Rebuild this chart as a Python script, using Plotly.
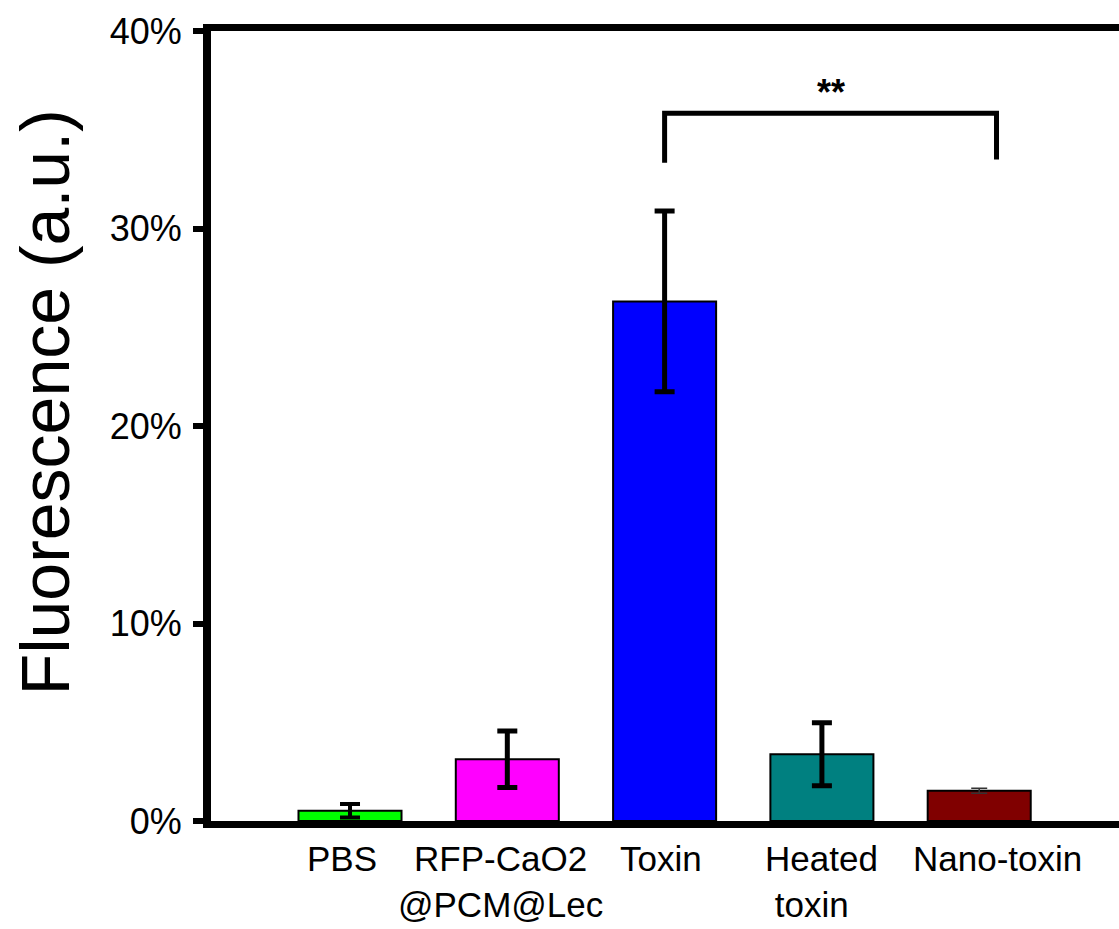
import plotly.graph_objects as go

# ---- data ----
categories = ["PBS", "RFP-CaO2<br>@PCM@Lec", "Toxin", "Heated<br>\u00a0toxin", "Nano-toxin"]
values = [0.52, 3.13, 26.31, 3.38, 1.53]          # %
errors = [0.34, 1.43, 4.57, 1.60, 0.13]           # %
y_tick_vals = [0, 10, 20, 30, 40]
y_tick_text = ["0%", "10%", "20%", "30%", "40%"]
y_title = "Fluorescence (a.u.)"

# significance bracket (Toxin vs Nano-toxin)
sig_x = [2, 2, 4.11, 4.11]
sig_y = [33.33, 35.84, 35.84, 33.5]
sig_text = "**"
sig_text_x = 3.06
sig_text_y = 36.9

# ---- style ----
colors = ["#00FF00", "#FF00FF", "#0000FF", "#008080", "#800000"]
err_thickness = [4, 5, 5, 5, 1.5]
err_width = [10, 10, 10, 10, 8]
err_color = ["black", "black", "black", "black", "#333333"]
label_xshift = [-8, -7, -4, 0, 18]
label_align = ["center", "center", "center", "left", "center"]
FONT = "Arial, Liberation Sans, sans-serif"

fig = go.Figure()
for i, (v, e) in enumerate(zip(values, errors)):
    fig.add_trace(go.Bar(
        x=[i], y=[v], width=0.655,
        marker=dict(color=colors[i], line=dict(color="black", width=2)),
        error_y=dict(type="data", array=[e], visible=True, color=err_color[i],
                     thickness=err_thickness[i], width=err_width[i]),
        showlegend=False, hoverinfo="skip",
    ))

fig.add_trace(go.Scatter(
    x=sig_x, y=sig_y, mode="lines",
    line=dict(color="black", width=5),
    showlegend=False, hoverinfo="skip",
))

annotations = []
for i, lab in enumerate(categories):
    annotations.append(dict(
        x=i, xref="x", y=0, yref="paper", yanchor="top", xanchor="center",
        text=lab, showarrow=False, align=label_align[i],
        xshift=label_xshift[i], yshift=-16,
        font=dict(family=FONT, size=35, color="black"),
    ))
annotations.append(dict(
    x=sig_text_x, xref="x", y=sig_text_y, yref="y", xanchor="center", yanchor="middle",
    text="<b>" + sig_text + "</b>", showarrow=False, font=dict(family=FONT, size=36, color="black"),
))
annotations.append(dict(
    x=-0.183, xref="paper", y=0.53, yref="paper", xanchor="center", yanchor="middle",
    text=y_title, textangle=-90, showarrow=False,
    font=dict(family=FONT, size=68, color="black"),
))

fig.update_layout(
    width=1119, height=929,
    margin=dict(l=211, r=0, t=31, b=108, pad=0),
    plot_bgcolor="white", paper_bgcolor="white",
    barmode="overlay",
    annotations=annotations,
    font=dict(family=FONT, color="black"),
)
fig.update_xaxes(
    range=[-0.8837, 4.8887], showgrid=False, zeroline=False,
    showline=True, linewidth=7, linecolor="black", mirror=True,
    ticks="", showticklabels=False,
)
fig.update_yaxes(
    range=[0, 40], tickmode="array", tickvals=y_tick_vals, ticktext=y_tick_text,
    showgrid=False, zeroline=False,
    showline=True, linewidth=8, linecolor="black", mirror=False,
    ticks="outside", ticklen=10, tickwidth=6, tickcolor="black",
    tickfont=dict(family=FONT, size=36, color="black"),
    ticklabelstandoff=4,
)

fig.write_html("out.html", config={"displayModeBar": False},
               post_script="document.body.style.margin='0';document.body.style.overflow='hidden';")
